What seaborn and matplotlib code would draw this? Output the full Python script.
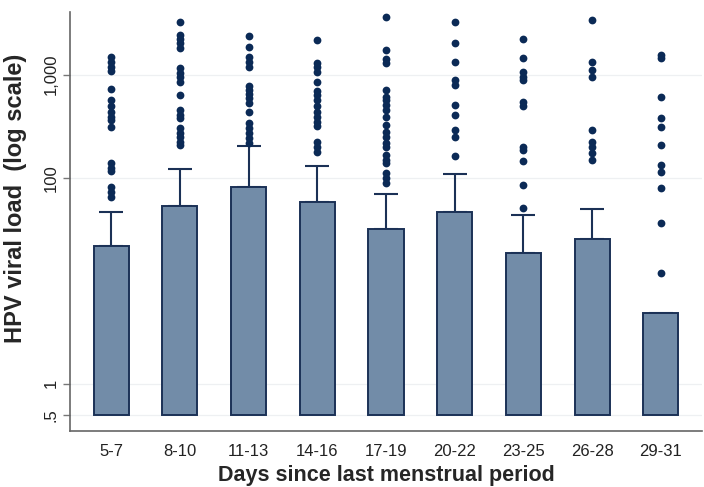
import numpy as np
import pandas as pd
import matplotlib
matplotlib.use('Agg')
import matplotlib.pyplot as plt
import seaborn as sns

# categorias (dias desde a ultima menstruacao)
dias = ['5-7', '8-10', '11-13', '14-16', '17-19', '20-22', '23-25', '26-28', '29-31']

# media (topo da barra) e limite superior da barra de erro
media = [21.7, 53.1, 81.8, 58.5, 31.5, 46.4, 18.7, 25.6, 4.9]
limite_sup = [46.5, 120.6, 203.0, 130.0, 70.0, 108.6, 43.5, 49.7, np.nan]

# pontos individuais (outliers) por grupo
pts_5_7 = [1496, 1336, 1200, 1093, 726, 568, 500, 437, 390, 363, 313, 140, 125, 117, 81.8, 73.1, 64.5]
pts_8_10 = [3270, 2427, 2206, 2017, 1804, 1153, 1045, 957, 855, 635, 454, 406, 377, 302, 273, 250, 224, 208]
pts_11_13 = [2377, 1871, 1496, 1336, 1196, 776, 710, 645, 590, 527, 437, 337, 302, 270, 241, 216]
pts_14_16 = [2173, 1309, 1196, 1069, 855, 700, 635, 568, 497, 437, 391, 350, 318, 224, 200, 179]
pts_17_19 = [3606, 1738, 1412, 1291, 710, 611, 568, 508, 454, 391, 324, 280, 250, 216, 200, 166, 149, 138, 110, 98.6, 88.3]
pts_20_22 = [3270, 2017, 1336, 889, 794, 508, 406, 290, 247, 164]
pts_23_25 = [2206, 1443, 1069, 957, 889, 547, 497, 200, 186, 146, 84.9, 50.5]
pts_26_28 = [3397, 1336, 1112, 957, 290, 224, 200, 172, 149]
pts_29_31 = [1552, 1443, 611, 377, 313, 208, 133, 114, 78.9, 36.6, 11.8]

pontos = [pts_5_7, pts_8_10, pts_11_13, pts_14_16, pts_17_19,
          pts_20_22, pts_23_25, pts_26_28, pts_29_31]

df_bar = pd.DataFrame({'Dia': dias, 'Media': media, 'Sup': limite_sup})
df_bar['Altura'] = df_bar['Media'] - 0.5
df_pts = pd.DataFrame({'Dia': [d for d, p in zip(dias, pontos) for _ in p],
                       'Carga': [v for p in pontos for v in p]})

base = 0.5
cor_barra = '#728ca8'
cor_borda = '#1b3156'
cor_ponto = '#0b2a56'

sns.set_style('white')
plt.rcParams['font.family'] = ['Liberation Sans', 'DejaVu Sans']

fig = plt.figure(figsize=(7.04, 4.87), dpi=100)
ax = fig.add_axes([70 / 704, 1 - 431 / 487, 632 / 704, (431 - 11.7) / 487])

ax.set_yscale('log')
sns.barplot(data=df_bar, x='Dia', y='Altura', order=dias, color=cor_barra,
            saturation=1, width=0.51, errorbar=None, edgecolor=cor_borda,
            linewidth=1.4, bottom=base, ax=ax, zorder=2)

# barras de erro (apenas para cima)
xpos = np.arange(len(dias))
sup = df_bar['Sup'].to_numpy() - df_bar['Media'].to_numpy()
ax.errorbar(xpos, df_bar['Media'], yerr=[np.zeros(len(dias)), sup], fmt='none',
            ecolor=cor_borda, elinewidth=1.5, capsize=8.6, capthick=1.5, zorder=1)

sns.stripplot(data=df_pts, x='Dia', y='Carga', order=dias, jitter=False,
              color=cor_ponto, size=5.6, linewidth=0, ax=ax, zorder=3)

ax.set_xlim(-0.6, 8.6)
ax.set_ylim(0.347, 4093)
ax.set_yticks([0.5, 1, 100, 1000])
ax.set_yticklabels(['.5', '1', '100', '1,000'], rotation=90, va='center')
ax.yaxis.set_minor_locator(matplotlib.ticker.NullLocator())
ax.grid(axis='y', color='#eef0f2', linewidth=0.9, zorder=0)
ax.set_axisbelow(True)

ax.tick_params(axis='y', length=5, width=1, color='#777777', labelsize=12,
               labelcolor='#222222', pad=3, left=True)
ax.tick_params(axis='x', length=0, labelsize=12, labelcolor='#222222', pad=9)

for lado in ['top', 'right']:
    ax.spines[lado].set_visible(False)
for lado in ['left', 'bottom']:
    ax.spines[lado].set_color('#666666')
    ax.spines[lado].set_linewidth(1.2)

ax.set_xlabel('Days since last menstrual period', fontsize=15.5, fontweight='bold', labelpad=5)
ax.set_ylabel('HPV viral load  (log scale)', fontsize=17, fontweight='bold')
ax.yaxis.set_label_coords(-0.068, 0.5545)

plt.savefig('out.png', dpi=100)
